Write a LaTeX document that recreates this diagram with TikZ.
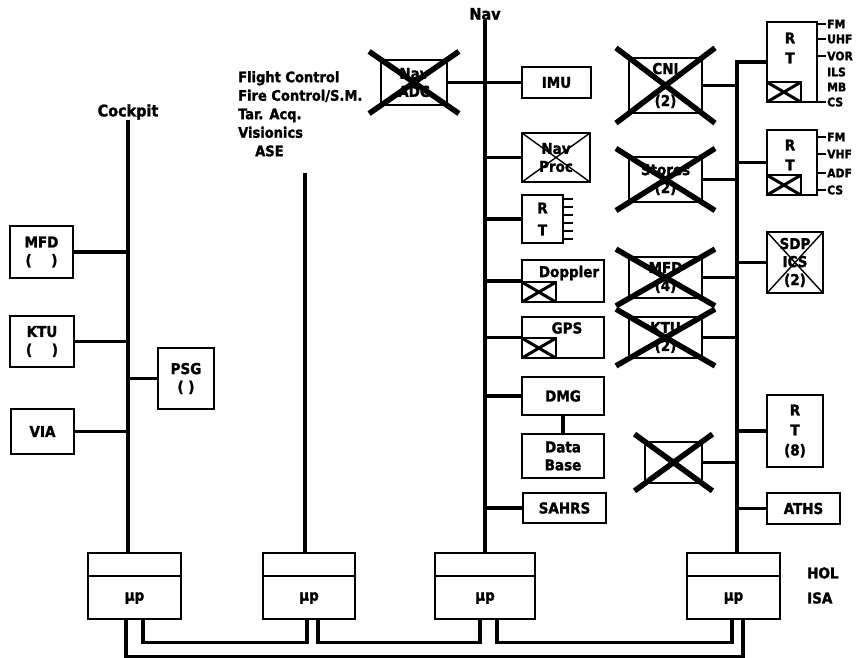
\documentclass[tikz,border=0pt]{standalone}
\usepackage{fontspec}
\setmainfont{DejaVu Sans Condensed}[BoldFeatures={FakeBold=1.5}]
\usetikzlibrary{calc,positioning}
\tikzset{
  every node/.style={font=\bfseries\fontsize{15}{18}\selectfont, inner sep=0pt},
  sz/.style 2 args={minimum width=#1pt, minimum height=#2pt},
  unit/.style={draw, line width=2pt, align=center},
  upbox/.style={draw, line width=2.2pt},
  rt/.style={align=center, font=\bfseries\fontsize{15}{20}\selectfont},
  side/.style={anchor=west, inner sep=1pt, font=\bfseries\fontsize{12}{12}\selectfont},
  bus/.style={line width=4.4pt},
  link/.style={line width=3.2pt},
  stub/.style={line width=1.8pt},
  kill/.style={line width=5.5pt},
  thinx/.style={path picture={\draw[line width=1.4pt]
    (path picture bounding box.north west) -- (path picture bounding box.south east)
    (path picture bounding box.north east) -- (path picture bounding box.south west);}},
  minix/.style={draw, line width=1.8pt, sz={34}{20}, anchor=south west,
    path picture={\draw[line width=3pt]
    (path picture bounding box.north west) -- (path picture bounding box.south east)
    (path picture bounding box.north east) -- (path picture bounding box.south west);}},
}
\begin{document}
\begin{tikzpicture}[x=1pt,y=-1pt]
\fill[white] (0,0) rectangle (863,658);
\useasboundingbox (0,0) rectangle (863,658);

% bus titles
\node[font=\bfseries\fontsize{16}{18}\selectfont] (ckptlbl) at (128,112) {Cockpit};
\node[align=left, anchor=north west, font=\bfseries\fontsize{14.5}{18.5}\selectfont] (fclbl) at (238,71)
  {Flight Control\\Fire Control/S.M.\\Tar. Acq.\\Visionics\\\hspace*{17pt}ASE};
\coordinate (fcbus) at (305,173);
\node[font=\bfseries\fontsize{16}{18}\selectfont] (navlbl) at (485,14) {Nav};
\coordinate (rbus) at (737,0);

% cockpit units
\node[unit, sz={63}{52}] (mfd) at (41.5,252) {MFD\\(\quad\ )};
\node[unit, sz={64}{51}] (ktu) at (42,341.5) {KTU\\(\quad\ )};
\node[unit, sz={63}{45}] (via) at (42.5,431.5) {VIA};
\node[unit, sz={56}{61}] (psg) at (186,378.5) {PSG\\( )};

% nav units
\node[unit, sz={66}{45}] (navadc) at (414,82.5) {Nav\\ADC};
\node[unit, sz={69}{31}] (imu) at (556.5,82.5) {IMU};
\node[unit, thinx, sz={68}{49}] (navproc) at (556,157.5) {Nav\\Proc};
\node[unit, rt, font=\bfseries\fontsize{15}{22}\selectfont, sz={41}{48}] (rtn) at (542.5,219) {R\\T};
\node[unit, sz={82}{42}] (doppler) at (563,281) {};
\node (dopplerlbl) at (569,273) {Doppler};
\node[minix] (dopplerx) at (doppler.south west) {};
\node[unit, sz={82}{41}] (gps) at (563,337.5) {};
\node (gpslbl) at (567,328) {GPS};
\node[minix] (gpsx) at (gps.south west) {};
\node[unit, sz={82}{38}] (dmg) at (563,396) {DMG};
\node[unit, sz={82}{44}] (database) at (563,456) {Data\\Base};
\node[unit, sz={83}{30}] (sahrs) at (564.5,508) {SAHRS};

% deleted units
\node[unit, sz={73}{55}] (cni) at (665.5,85.5) {CNI\\[14pt](2)};
\node[unit, sz={73}{45}] (stores) at (665.5,179.5) {Stores\\(2)};
\node[unit, sz={73}{41}] (mfdq) at (665.5,277.5) {MFD\\(4)};
\node[unit, sz={73}{41}] (ktud) at (665.5,337.5) {KTU\\(2)};
\node[unit, sz={57}{41}] (spare) at (673.5,462.5) {};

% radio side
\node[unit, sz={50}{80}] (rta) at (792,62) {};
\node[rt] (rtalbl) at (790,48) {R\\T};
\node[minix] (rtax) at (rta.south west) {};
\node[unit, sz={50}{65}] (rtb) at (792,162.5) {};
\node[rt] (rtblbl) at (790,155) {R\\T};
\node[minix] (rtbx) at (rtb.south west) {};
\node[unit, thinx, sz={56}{61}] (sdp) at (795,262.5) {SDP\\ICS\\(2)};
\node[unit, rt, sz={56}{72}] (rte) at (795,431) {R\\T\\(8)};
\node[unit, sz={73}{31}] (aths) at (803.5,508.5) {ATHS};

\foreach \t/\y [count=\i] in {FM/24,UHF/39,VOR/56,CS/102}
  {\node[side] (rta\i) at (826,\y) {\t};
   \draw[stub] (rta\i.west) -- (rta\i.west -| rta.east);}
\node[side] (rtails) at (826,72) {ILS};
\node[side] (rtamb) at (826,87) {MB};
\foreach \t/\y [count=\i] in {FM/137,VHF/154,ADF/173,CS/190}
  {\node[side] (rtb\i) at (826,\y) {\t};
   \draw[stub] (rtb\i.west) -- (rtb\i.west -| rtb.east);}
\foreach \d in {-20,-12,...,20}
  \draw[stub] ([yshift=\d pt]rtn.east) -- ++(9,0);

% processors
\foreach \n/\x/\w in {up1/134.5/93,up2/309/92,up3/485/100,up4/733.5/93}
  {\node[upbox, sz={\w}{66}] (\n) at (\x,586) {};
   \node (\n-t) at (\x,598) {µp};
   \draw[line width=2pt] ($(\n.north west)+(0,24)$) -- ($(\n.north east)+(0,24)$);}
\node[anchor=west] (hol) at (807,573) {HOL};
\node[anchor=west] (isa) at (807,598) {ISA};

% buses
\draw[bus] (ckptlbl.south) -- (ckptlbl.south |- up1.north);
\draw[bus] (fcbus) -- (fcbus |- up2.north);
\draw[bus] (navlbl.south) -- (navlbl.south |- up3.north);
\draw[bus] (rta.west) -| (rbus |- up4.north);

\foreach \b in {mfd,ktu,via,psg} \draw[link] (\b) -- (\b -| ckptlbl);
\foreach \b in {navadc,imu,navproc,rtn,doppler,gps,dmg,sahrs} \draw[link] (\b) -- (\b -| navlbl);
\foreach \b in {cni,stores,mfdq,ktud,spare,rtb,sdp,rte,aths} \draw[link] (\b) -- (\b -| rbus);
\draw[link] (dmg) -- (database);

% processor ring
\draw[link] ([xshift=8.5pt]up1.south) -- ++(0,22) -| ([xshift=-2pt]up2.south);
\draw[link] ([xshift=9pt]up2.south) -- ++(0,22) -| ([xshift=-5pt]up3.south);
\draw[link] ([xshift=12pt]up3.south) -- ++(0,22) -| ([xshift=-1.5pt]up4.south);
\draw[link] ([xshift=-8.5pt]up1.south) -- ++(0,36) -| ([xshift=9.5pt]up4.south);

% crossed out
\foreach \n in {navadc,cni,stores,mfdq,ktud,spare}
  \draw[kill] ($(\n.north west)!-.16!(\n.south east)$) -- ($(\n.south east)!-.16!(\n.north west)$)
              ($(\n.north east)!-.16!(\n.south west)$) -- ($(\n.south west)!-.16!(\n.north east)$);
\end{tikzpicture}
\end{document}
